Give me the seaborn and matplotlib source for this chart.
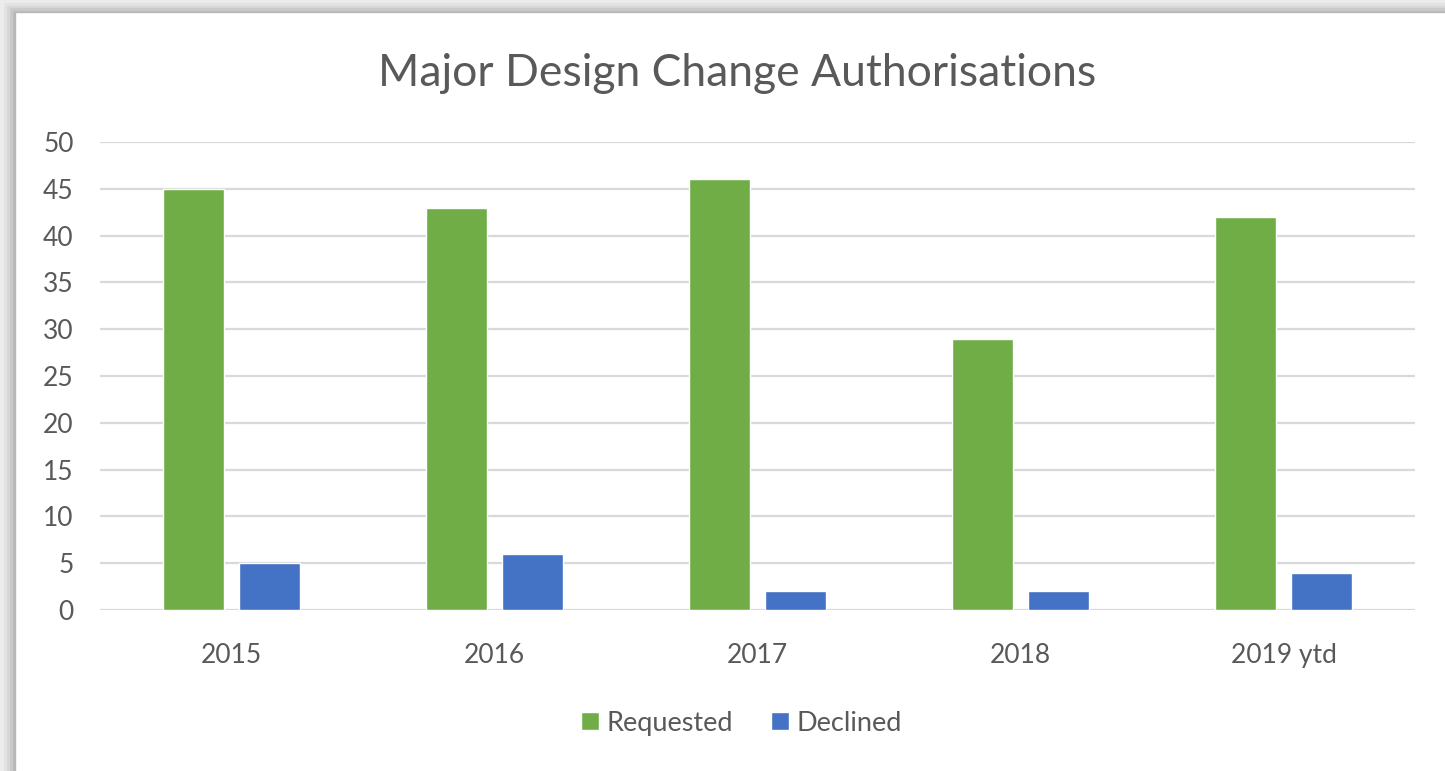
import pandas as pd
import matplotlib.pyplot as plt
import seaborn as sns
from matplotlib.patches import Rectangle

# Data
years = ["2015", "2016", "2017", "2018", "2019 ytd"]
requested = [45, 43, 46, 29, 42]
declined = [5, 6, 2, 2, 4]

df = pd.DataFrame({
    "year": years * 2,
    "count": requested + declined,
    "series": ["Requested"] * len(years) + ["Declined"] * len(years),
})

sns.set_style("white")
plt.rcParams["font.family"] = ["Lato", "DejaVu Sans"]

fig = plt.figure(figsize=(14.45, 7.71), dpi=100)

# shadowed frame like the spreadsheet export
for i, c in enumerate(["#b8b8b8", "#c8c8c8", "#d6d6d6", "#e2e2e2", "#ececec"]):
    w = 15 - i * 3
    fig.patches.append(Rectangle((0, 0), w / 1445, 1, transform=fig.transFigure,
                                 color=c, zorder=0))
    h = 12 - i * 2.4
    fig.patches.append(Rectangle((0, 1 - h / 771), 1, h / 771, transform=fig.transFigure,
                                 color=c, zorder=0))

ax = fig.add_axes([100 / 1445, 161 / 771, 1315 / 1445, 468 / 771])
sns.barplot(
    data=df, x="year", y="count", hue="series", ax=ax,
    palette={"Requested": "#70AD47", "Declined": "#4472C4"},
    width=0.578, gap=0.21, saturation=1, legend=True,
)

ax.set_ylim(0, 50)
ax.set_yticks(range(0, 51, 5))
ax.set_xlim(-0.5, 4.5)
ax.yaxis.grid(True, color="#d9d9d9", linewidth=1.6)
ax.set_axisbelow(True)
for s in ax.spines.values():
    s.set_visible(False)
ax.set_xlabel("")
ax.set_ylabel("")
ax.tick_params(axis="both", length=0, labelsize=19, colors="#595959")
ax.tick_params(axis="x", pad=24)
ax.tick_params(axis="y", pad=19)

fig.text(0.51, 0.905, "Major Design Change Authorisations", ha="center", va="center",
         fontsize=32, color="#595959")

ax.legend(loc="center", bbox_to_anchor=(0.488, -0.242), ncol=2, frameon=False,
          fontsize=19.5, handlelength=0.65, handleheight=0.65, handletextpad=0.3,
          columnspacing=1.4, labelcolor="#595959")

fig.savefig("out.png", dpi=100, facecolor="white")
